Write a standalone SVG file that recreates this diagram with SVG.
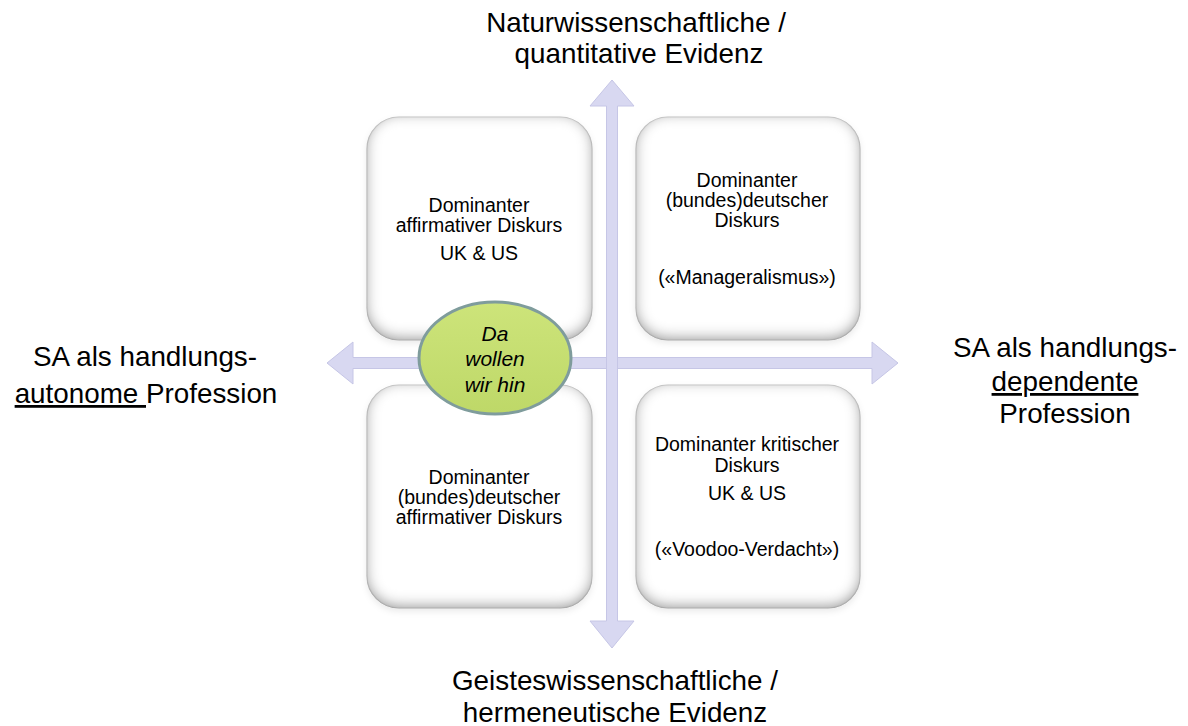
<svg xmlns="http://www.w3.org/2000/svg" width="1188" height="726" viewBox="0 0 1188 726">
<defs>
<style>
.lbl{font-family:"Liberation Sans",Arial,sans-serif;font-size:27.8px;fill:#000;text-anchor:middle}
.bt{font-family:"Liberation Sans",Arial,sans-serif;font-size:19.5px;fill:#000;text-anchor:middle}
.et{font-family:"Liberation Sans",Arial,sans-serif;font-size:21px;font-style:italic;fill:#000;text-anchor:middle}
.box{fill:#ffffff;stroke:#dcdcdc;stroke-width:1.2;filter:url(#inner)}
.arrow{fill:#d8d8f1;stroke:#c6c6e6;stroke-width:1}
</style>
<filter id="inner" x="-10%" y="-10%" width="120%" height="125%">
<feFlood flood-color="#8c8c8c" result="f"/>
<feComposite in="f" in2="SourceAlpha" operator="out" result="o"/>
<feGaussianBlur in="o" stdDeviation="7" result="b"/>
<feOffset in="b" dy="-3" result="bo"/>
<feComposite in="bo" in2="SourceAlpha" operator="in" result="ins"/>
<feGaussianBlur in="SourceAlpha" stdDeviation="3" result="sb"/>
<feOffset in="sb" dy="3" result="so"/>
<feFlood flood-color="#000" flood-opacity="0.08"/>
<feComposite in2="so" operator="in" result="shadow"/>
<feMerge><feMergeNode in="shadow"/><feMergeNode in="SourceGraphic"/><feMergeNode in="ins"/></feMerge>
</filter>
<linearGradient id="eg" x1="0" y1="0" x2="0" y2="1">
<stop offset="0" stop-color="#cde47a"/>
<stop offset="1" stop-color="#bed868"/>
</linearGradient>
</defs>

<g id="box-top-left">
<rect class="box" x="367" y="117" width="225" height="223" rx="32"/>
<text class="bt" x="479" y="212">Dominanter</text>
<text class="bt" x="479" y="232">affirmativer Diskurs</text>
<text class="bt" x="479" y="260">UK &amp; US</text>
</g>
<g id="box-top-right">
<rect class="box" x="636" y="117" width="224" height="223" rx="32"/>
<text class="bt" x="747" y="187">Dominanter</text>
<text class="bt" x="747" y="207">(bundes)deutscher</text>
<text class="bt" x="747" y="227">Diskurs</text>
<text class="bt" x="747" y="284">(«Manageralismus»)</text>
</g>
<g id="box-bottom-left">
<rect class="box" x="367" y="385" width="225" height="223" rx="32"/>
<text class="bt" x="479" y="484">Dominanter</text>
<text class="bt" x="479" y="504">(bundes)deutscher</text>
<text class="bt" x="479" y="524">affirmativer Diskurs</text>
</g>
<g id="box-bottom-right">
<rect class="box" x="636" y="385" width="224" height="223" rx="32"/>
<text class="bt" x="747" y="451">Dominanter kritischer</text>
<text class="bt" x="747" y="472">Diskurs</text>
<text class="bt" x="747" y="500">UK &amp; US</text>
<text class="bt" x="747" y="556">(«Voodoo-Verdacht»)</text>
</g>

<g id="connectors">
<polygon class="arrow" points="327,363 353,342 353,357.5 872,357.5 872,342 898,363 872,384 872,368.5 353,368.5 353,384"/>
<polygon class="arrow" points="612,80 634,106 617.5,106 617.5,621 634,621 612,648 590,621 606.5,621 606.5,106 590,106"/>
</g>

<g id="ellipse-goal">
<ellipse cx="495" cy="358" rx="76" ry="56" fill="url(#eg)" stroke="#7f9c9c" stroke-width="3"/>
<text class="et" x="495" y="341">Da</text>
<text class="et" x="495" y="366">wollen</text>
<text class="et" x="495" y="392">wir hin</text>
</g>

<g id="label-top">
<text class="lbl" x="636" y="32">Naturwissenschaftliche /</text>
<text class="lbl" x="639" y="63">quantitative Evidenz</text>
</g>
<g id="label-bottom">
<text class="lbl" x="615" y="690">Geisteswissenschaftliche /</text>
<text class="lbl" x="615" y="722">hermeneutische Evidenz</text>
</g>
<g id="label-left">
<text class="lbl" x="145" y="366">SA als handlungs-</text>
<text class="lbl" x="146" y="403"><tspan text-decoration="underline">autonome </tspan>Profession</text>
</g>
<g id="label-right">
<text class="lbl" x="1065" y="357">SA als handlungs-</text>
<text class="lbl" x="1065" y="391" text-decoration="underline">dependente</text>
<text class="lbl" x="1065" y="423">Profession</text>
</g>
</svg>
